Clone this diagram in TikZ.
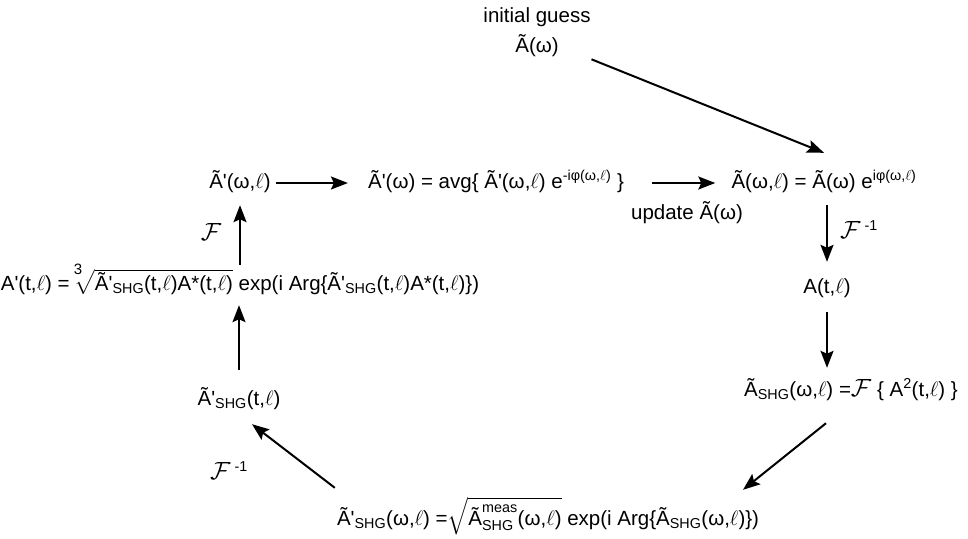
\documentclass[tikz,border=0pt]{standalone}
\usepackage{amsmath}
\usepackage{fontspec}
\newfontfamily\arialf{Liberation Sans}
\usetikzlibrary{arrows.meta}
\newcommand{\sbs}[1]{\textsubscript{#1}}
\newcommand{\sps}[1]{\textsuperscript{#1}}
\newcommand{\el}{\ensuremath{\ell}}
\newcommand{\FF}{{\fontsize{26}{30}\selectfont$\mathcal{F}$}}
\begin{document}
\begin{tikzpicture}[x=1pt,y=-1pt,
  every node/.style={font=\arialf\fontsize{20.5}{24}\selectfont},
  txt/.style={inner sep=2pt, text height=15pt, text depth=5pt},
  arr/.style={line width=2pt, -{Stealth[length=17pt,width=13pt,inset=3pt]}}]
\useasboundingbox (0,0) rectangle (968,538);
\node[txt] (ig) at (537,17) {initial guess};
\node[txt] (ai) at (537,47) {Ã(ω)};
\node[txt] (a1) at (240,183) {Ã'(ω,\el)};
\node[txt] (avg) at (496,183) {Ã'(ω) = avg\{ Ã'(ω,\el) e\sps{-iφ(ω,\el)} \}};
\node[txt] (upd) at (687,214) {update Ã(ω)};
\node[txt] (eqR) at (824,183) {Ã(ω,\el) = Ã(ω) e\sps{iφ(ω,\el)}};
\node[txt] (fr) at (859,233) {\FF\sps{ -1}};
\node[txt] (At) at (827,288) {A(t,\el)};
\node[txt] (shg) at (851,391) {Ã\sbs{SHG}(ω,\el) =\FF\ \{ A\sps{2}(t,\el) \}};
\node[txt] (bot) at (548,520) {Ã'\sbs{SHG}(ω,\el) =$\sqrt{\text{Ã}^{\text{meas}}_{\text{SHG}}\text{(ω,\el)}}$ exp(i Arg\{Ã\sbs{SHG}(ω,\el)\})};
\node[txt] (b2) at (239,400) {Ã'\sbs{SHG}(t,\el)};
\node[txt] (fb) at (229,474) {\FF\sps{ -1}};
\node[txt] (Ap) at (240,285) {A'(t,\el) =\kern2pt$\sqrt[\leftroot{3}\uproot{5}\text{\fontsize{15}{15}\selectfont 3}]{\text{Ã'\sbs{SHG}(t,\el)A*(t,\el)}}$ exp(i Arg\{Ã'\sbs{SHG}(t,\el)A*(t,\el)\})};
\node[txt] (fl) at (211,235) {\FF};
% connectors
\draw[arr, shorten <=33pt] (ai.east) -- ([yshift=18pt]eqR.north);
\draw[arr, shorten <=3pt, shorten >=18pt] (a1.east) -- (avg.west);
\draw[arr, shorten <=26pt, shorten >=14pt] (avg.east) -- (eqR.west);
\draw[arr, shorten <=10pt, shorten >=14pt] (eqR.south -| At.north) -- (At.north);
\draw[arr, shorten <=12pt, shorten >=11pt] (At.south) -- (At.south |- shg.north);
\draw[arr] ([xshift=-25pt,yshift=-20pt]shg.south) -- ([xshift=195pt,yshift=18pt]bot.north);
\draw[arr] ([yshift=20pt]bot.north west) -- ([xshift=13pt,yshift=-12pt]b2.south);
\draw[arr, shorten <=18pt, shorten >=8pt] (b2.north) -- (b2.north |- Ap.south);
\draw[arr, shorten <=8pt, shorten >=10pt] (a1.south |- Ap.north) -- (a1.south);
\end{tikzpicture}
\end{document}
